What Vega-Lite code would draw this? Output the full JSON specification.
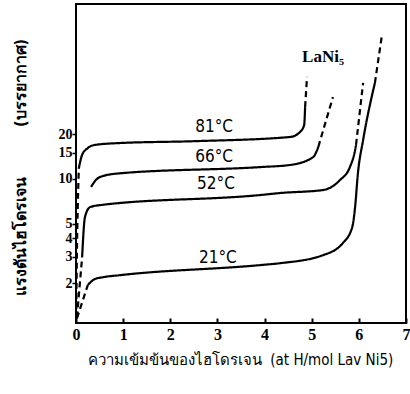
{
  "$schema": "https://vega.github.io/schema/vega-lite/v6.json",
  "width": 330,
  "height": 319,
  "autosize": {"type": "none"},
  "padding": {"left": 76, "top": 4, "right": 4, "bottom": 71},
  "background": "white",
  "config": {
    "view": {"stroke": "black", "strokeWidth": 2},
    "axis": {"grid": false, "domain": false, "tickColor": "black", "labelColor": "black", "titleColor": "black"}
  },
  "datasets": {
    "curves": [
      {"s": "81a", "t": "dashed", "x": 0.005, "y": 1.15},
      {"s": "81a", "t": "dashed", "x": 0.02, "y": 3.3},
      {"s": "81a", "t": "dashed", "x": 0.04, "y": 7.0},
      {"s": "81a", "t": "dashed", "x": 0.06, "y": 11.8},
      {"s": "81b", "t": "solid", "x": 0.06, "y": 11.8},
      {"s": "81b", "t": "solid", "x": 0.13, "y": 14.5},
      {"s": "81b", "t": "solid", "x": 0.25, "y": 16.1},
      {"s": "81b", "t": "solid", "x": 0.4, "y": 16.9},
      {"s": "81b", "t": "solid", "x": 0.93, "y": 17.4},
      {"s": "81b", "t": "solid", "x": 2.5, "y": 17.9},
      {"s": "81b", "t": "solid", "x": 4.54, "y": 19.1},
      {"s": "81b", "t": "solid", "x": 4.75, "y": 20.6},
      {"s": "81b", "t": "solid", "x": 4.84, "y": 23.0},
      {"s": "81b", "t": "solid", "x": 4.86, "y": 30.3},
      {"s": "81c", "t": "dashed", "x": 4.86, "y": 30.3},
      {"s": "81c", "t": "dashed", "x": 4.9, "y": 48.3},
      {"s": "66b", "t": "solid", "x": 0.32, "y": 8.82},
      {"s": "66b", "t": "solid", "x": 0.42, "y": 9.82},
      {"s": "66b", "t": "solid", "x": 0.57, "y": 10.45},
      {"s": "66b", "t": "solid", "x": 0.93, "y": 10.9},
      {"s": "66b", "t": "solid", "x": 3.9, "y": 12.0},
      {"s": "66b", "t": "solid", "x": 4.54, "y": 12.4},
      {"s": "66b", "t": "solid", "x": 5.03, "y": 14.0},
      {"s": "66b", "t": "solid", "x": 5.14, "y": 16.4},
      {"s": "66c", "t": "dashed", "x": 5.14, "y": 16.4},
      {"s": "66c", "t": "dashed", "x": 5.45, "y": 35.4},
      {"s": "52a", "t": "dashed", "x": 0.02, "y": 1.18},
      {"s": "52a", "t": "dashed", "x": 0.13, "y": 2.99},
      {"s": "52b", "t": "solid", "x": 0.13, "y": 2.99},
      {"s": "52b", "t": "solid", "x": 0.19, "y": 5.55},
      {"s": "52b", "t": "solid", "x": 0.3, "y": 6.47},
      {"s": "52b", "t": "solid", "x": 0.51, "y": 6.67},
      {"s": "52b", "t": "solid", "x": 3.9, "y": 7.79},
      {"s": "52b", "t": "solid", "x": 4.33, "y": 8.04},
      {"s": "52b", "t": "solid", "x": 5.24, "y": 8.42},
      {"s": "52b", "t": "solid", "x": 5.6, "y": 9.82},
      {"s": "52b", "t": "solid", "x": 5.81, "y": 12.0},
      {"s": "52b", "t": "solid", "x": 5.92, "y": 15.6},
      {"s": "52b", "t": "solid", "x": 5.94, "y": 16.9},
      {"s": "52c", "t": "dashed", "x": 5.94, "y": 16.9},
      {"s": "52c", "t": "dashed", "x": 6.09, "y": 44.0},
      {"s": "21a", "t": "dashed", "x": 0.02, "y": 1.16},
      {"s": "21a", "t": "dashed", "x": 0.25, "y": 1.94},
      {"s": "21b", "t": "solid", "x": 0.25, "y": 1.94},
      {"s": "21b", "t": "solid", "x": 0.4, "y": 2.13},
      {"s": "21b", "t": "solid", "x": 0.57, "y": 2.19},
      {"s": "21b", "t": "solid", "x": 0.93, "y": 2.26},
      {"s": "21b", "t": "solid", "x": 3.9, "y": 2.64},
      {"s": "21b", "t": "solid", "x": 4.33, "y": 2.72},
      {"s": "21b", "t": "solid", "x": 5.24, "y": 3.08},
      {"s": "21b", "t": "solid", "x": 5.66, "y": 3.71},
      {"s": "21b", "t": "solid", "x": 5.86, "y": 4.75},
      {"s": "21b", "t": "solid", "x": 5.92, "y": 6.47},
      {"s": "21b", "t": "solid", "x": 5.98, "y": 10.9},
      {"s": "21b", "t": "solid", "x": 6.09, "y": 18.2},
      {"s": "21b", "t": "solid", "x": 6.34, "y": 44.0},
      {"s": "21c", "t": "dashed", "x": 6.34, "y": 44.0},
      {"s": "21c", "t": "dashed", "x": 6.49, "y": 92.3}
    ],
    "labels": [
      {"label": "81°C", "x": 2.93, "y": 22.3},
      {"label": "66°C", "x": 2.93, "y": 14.0},
      {"label": "52°C", "x": 2.97, "y": 9.23},
      {"label": "21°C", "x": 3.01, "y": 2.94}
    ],
    "title": [
      {"label": "LaNi₅", "x": 5.24, "y": 65.7}
    ]
  },
  "layer": [
    {
      "data": {"name": "curves"},
      "mark": {"type": "line", "interpolate": "monotone", "color": "black", "strokeWidth": 2.2, "clip": true},
      "encoding": {
        "x": {
          "field": "x", "type": "quantitative",
          "scale": {"domain": [0, 7], "nice": false, "zero": false},
          "axis": {
            "values": [0, 1, 2, 3, 4, 5, 6, 7], "format": "d",
            "tickSize": -5, "tickWidth": 2, "labelPadding": 8,
            "labelFont": "Liberation Serif", "labelFontWeight": "bold", "labelFontSize": 16, "labelFlush": false,
            "title": "ความเข้มข้นของไฮโดรเจน\u00a0\u00a0(at H/mol Lav Ni5)",
            "titleFont": "DejaVu Sans Condensed", "titleFontWeight": "normal", "titleFontSize": 15,
            "titleX": 164, "titleY": 36, "titleBaseline": "middle", "titleAlign": "center"
          }
        },
        "y": {
          "field": "y", "type": "quantitative",
          "scale": {"type": "log", "domain": [1.08, 149], "nice": false},
          "axis": {
            "values": [2, 3, 4, 5, 10, 15, 20], "format": "d", "labelOverlap": false,
            "tickSize": 4, "tickWidth": 1.5, "labelPadding": 0,
            "labelFont": "Liberation Serif", "labelFontWeight": "bold", "labelFontSize": 14,
            "title": "แรงดันไฮโดรเจน\u00a0\u00a0\u00a0\u00a0\u00a0\u00a0\u00a0\u00a0\u00a0\u00a0(บรรยากาศ)",
            "titleFont": "DejaVu Sans Condensed", "titleFontWeight": "bold", "titleFontSize": 16,
            "titleAngle": -90, "titleX": -56, "titleY": 163, "titleBaseline": "middle", "titleAlign": "center"
          }
        },
        "detail": {"field": "s"},
        "strokeDash": {
          "field": "t", "type": "nominal",
          "scale": {"domain": ["solid", "dashed"], "range": [[1, 0], [6, 4]]},
          "legend": null
        }
      }
    },
    {
      "data": {"name": "labels"},
      "mark": {"type": "text", "font": "DejaVu Sans Condensed", "fontSize": 17, "color": "black", "align": "center", "baseline": "middle"},
      "encoding": {
        "x": {"field": "x", "type": "quantitative"},
        "y": {"field": "y", "type": "quantitative"},
        "text": {"field": "label"}
      }
    },
    {
      "data": {"name": "title"},
      "mark": {"type": "text", "font": "Liberation Serif", "fontWeight": "bold", "fontSize": 17, "color": "black", "align": "center", "baseline": "middle"},
      "encoding": {
        "x": {"field": "x", "type": "quantitative"},
        "y": {"field": "y", "type": "quantitative"},
        "text": {"field": "label"}
      }
    }
  ]
}
